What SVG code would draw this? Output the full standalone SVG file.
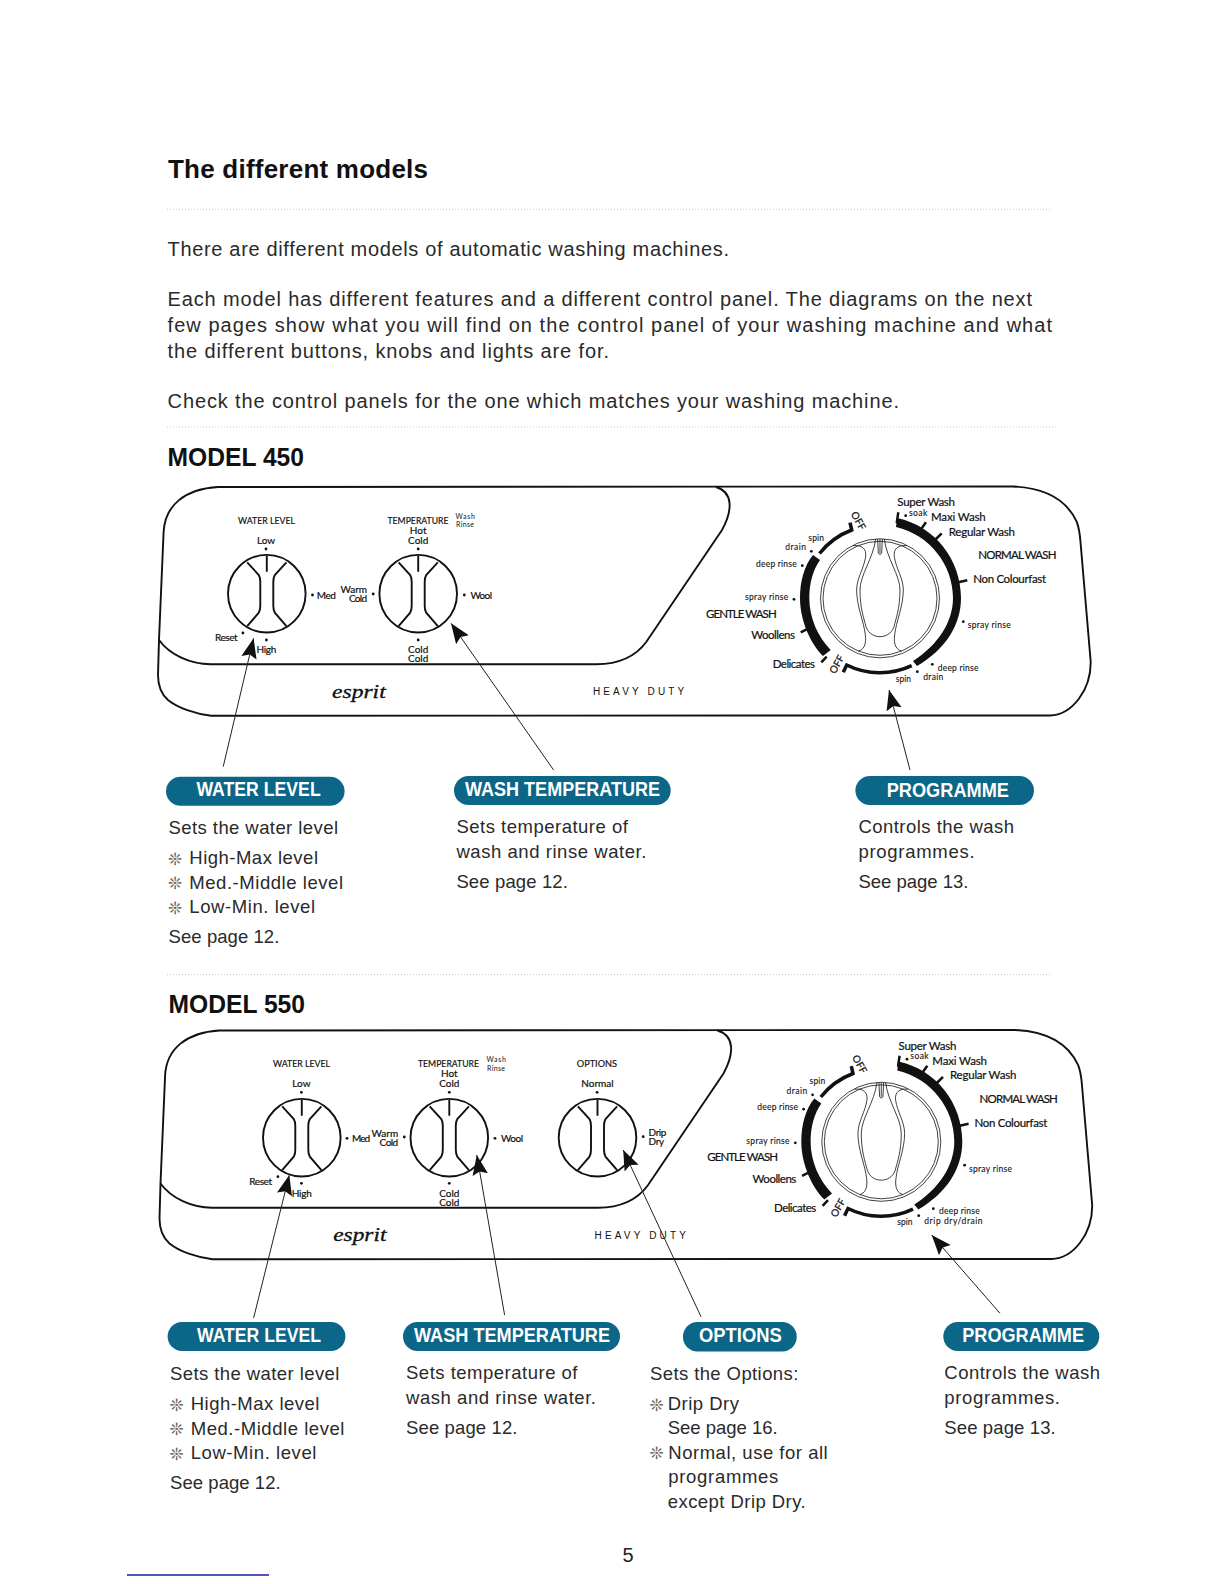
<svg xmlns="http://www.w3.org/2000/svg" xmlns:xlink="http://www.w3.org/1999/xlink" width="1224" height="1584" viewBox="0 0 1224 1584">
<style>
.h{font:bold 26px "Liberation Sans",Arial,sans-serif;fill:#111}
.m{font:bold 25px "Liberation Sans",Arial,sans-serif;fill:#111}
.b{font:20px "Liberation Sans",Arial,sans-serif;fill:#2a2a2a}
.c{font:18.5px "Liberation Sans",Arial,sans-serif;fill:#2a2a2a}
.s{font:17px "DejaVu Sans",sans-serif;fill:#666}
.pt{font:bold 20px "Liberation Sans",Arial,sans-serif;fill:#fff;text-anchor:start}
.pill{fill:#0b6688}
.dot{stroke:#ccc;stroke-width:1;stroke-dasharray:1 2;fill:none}
.p{font:10px Lato,"Liberation Sans",sans-serif;fill:#111;stroke:#111;stroke-width:.2}
.m1{text-anchor:middle}
.t{font:11.5px Lato,"Liberation Sans",sans-serif;fill:#111;stroke:#111;stroke-width:.2}
.sm{font:8.5px Lato,"Liberation Sans",sans-serif;fill:#111;stroke:#111;stroke-width:.1}
.off{font:10px Lato,"Liberation Sans",sans-serif;fill:#111;stroke:#111;stroke-width:.25;text-anchor:middle}
.xs{font:7px Lato,"Liberation Sans",sans-serif;fill:#111}
.hd{font:10px "Liberation Sans",sans-serif;letter-spacing:3.15px;fill:#111}
.es{font:italic 18px "Liberation Serif",serif;fill:#111;stroke:#111;stroke-width:.3}
.ln{stroke:#111;fill:none;stroke-width:1.9}
.th{stroke:#111;fill:none;stroke-width:.8}
.wire{stroke:#222;stroke-width:1;fill:none;marker-end:url(#ah)}
</style>
<defs>
<marker id="ah" markerUnits="userSpaceOnUse" markerWidth="20" markerHeight="16" refX="18" refY="7" orient="auto" viewBox="0 0 18 14"><path d="M0 0L18 7L0 14L3 7Z" fill="#111"/></marker>
<g id="knob" class="ln" fill="none">
<circle r="38.8" cx="0" cy="0"/>
<path d="M0-38V-22M-19.6-31.3L-8-18.7Q-6.5-16-6.5-12V12Q-6.5 16-8 19L-19.6 32.5M19.6-31.3L8-18.7Q6.5-16 6.5-12V12Q6.5 16 8 19L19.6 32.5"/>
</g>
<g id="panel"><path class="ln" d="M218 487L1013 486.5C1050 488 1068 503 1076.7 521.7C1079 528 1080 535 1080.5 542L1090.7 661.7C1091 690 1072 715 1050 715.5L211 715.7C195 714 178 708 168 700C160 693 158 685 158 675L159 640L163.6 532C165 505 185 489 218 487Z"/>
<path class="ln" d="M159 640C170 655 190 664 210.7 664.3L596.4 664.3C620 664 636 656 646.4 641.7L722 530C733 510 733 492 716 487"/></g>
<g id="dial">
<circle class="th" cx="880" cy="598.3" r="59.5"/><circle class="th" cx="880" cy="598.3" r="57"/>
<g transform="translate(680 475) scale(.3333)" fill="none" stroke="#111" stroke-width="2.4">
<path d="M587 192C580 250 540 300 540 345C540 400 552 430 558 455C566 478 585 485 600 485C615 485 634 478 642 455C648 430 660 400 660 345C660 300 620 250 613 192"/>
<path d="M593 192L595 235Q600 243 605 235L607 192M600 192V235"/>
<path d="M520 212C545 210 560 220 557 245C552 280 530 310 530 345C530 395 552 440 556 480C560 510 550 525 535 528"/>
<path d="M680 212C655 210 640 220 643 245C648 280 670 310 670 345C670 395 648 440 644 480C640 510 650 525 665 528"/>
</g>
<path fill="#111" d="M897 518C935 526 961 560 961 598C961 625 945 650 917 666L913 661C938 645 953 622 953 598C953 565 930 535 896 527Z"/>
<path fill="#111" d="M813 555C804 566 800 582 800 598C800 620 810 643 823 656L830.7 650C818 637 809.3 618 809.3 598C809.3 583 813 570 820 560Z"/>
<path class="ln" style="stroke-width:3.5" d="M819.5 553.5A75 75 0 0 1 851.7 530L850 522.7"/>
<path class="ln" style="stroke-width:3.5" d="M911.7 665.7A74.5 74.5 0 0 1 846.7 665L843.3 672.3"/>
<path class="ln" style="stroke-width:2.5" d="M896.7 523.3L898.3 512.3M921.7 528.3L926 522.3M935 540L941.7 533.3M958.3 582.3L967.3 580.3M806.7 629.3L800.7 632.3M826.7 656.7L821.3 662.3"/>
</g>
</defs>
<rect width="1224" height="1584" fill="#fff"/>

<g id="intro">
<text class="h" x="168" y="178" textLength="260" lengthAdjust="spacing">The different models</text>
<path class="dot" d="M167 209.3H1050M167 427H1056M167 974.6H1052"/>
<text class="b" x="167.6" y="255.7" textLength="561.4" lengthAdjust="spacing">There are different models of automatic washing machines.</text>
<text class="b" x="167.6" y="306" textLength="864.4" lengthAdjust="spacing">Each model has different features and a different control panel. The diagrams on the next</text>
<text class="b" x="167.6" y="331.5" textLength="884.4" lengthAdjust="spacing">few pages show what you will find on the control panel of your washing machine and what</text>
<text class="b" x="167.6" y="357.5" textLength="441.4" lengthAdjust="spacing">the different buttons, knobs and lights are for.</text>
<text class="b" x="167.6" y="408" textLength="731.4" lengthAdjust="spacing">Check the control panels for the one which matches your washing machine.</text>
<text class="m" x="167.6" y="465.5" textLength="136.4" lengthAdjust="spacingAndGlyphs">MODEL 450</text>
<text class="m" x="168.6" y="1013" textLength="136.4" lengthAdjust="spacingAndGlyphs">MODEL 550</text>
<text x="628" y="1562" text-anchor="middle" style="font:20px 'Liberation Sans',sans-serif;fill:#222">5</text>
<path d="M127 1575H269" stroke="#1a1a9c" stroke-width="1.4"/>
</g>

<g id="panel-450">
<use xlink:href="#panel" href="#panel"/>
<use xlink:href="#knob" href="#knob" x="266.8" y="593.7"/>
<use xlink:href="#knob" href="#knob" x="418.2" y="593.7"/>
<use xlink:href="#dial" href="#dial"/>
<g fill="#111"><circle cx="266" cy="549" r="1.4"/><circle cx="418.2" cy="549" r="1.4"/><circle cx="312.5" cy="595" r="1.4"/><circle cx="373.2" cy="594" r="1.4"/><circle cx="464.3" cy="595" r="1.4"/><circle cx="242.9" cy="633" r="1.4"/><circle cx="266.4" cy="640" r="1.4"/><circle cx="418.2" cy="640" r="1.4"/>
<circle cx="905.7" cy="515.7" r="1.4"/><circle cx="963.3" cy="621.7" r="1.4"/><circle cx="932.3" cy="664.3" r="1.4"/><circle cx="917.3" cy="671.7" r="1.4"/><circle cx="794" cy="599.3" r="1.4"/><circle cx="802.3" cy="565.7" r="1.4"/><circle cx="811.3" cy="551.3" r="1.4"/></g>
<text class="p" x="238" y="524" textLength="57" lengthAdjust="spacingAndGlyphs">WATER LEVEL</text>
<text class="p m1" x="266" y="544">Low</text>
<text class="p" x="387.5" y="524" textLength="61" lengthAdjust="spacingAndGlyphs">TEMPERATURE</text>
<text class="xs" x="455.4" y="519.3" textLength="19.6">Wash</text>
<text class="xs" x="456" y="527.3" textLength="18">Rinse</text>
<text class="p m1" x="418.2" y="534.3">Hot</text><text class="p m1" x="418.2" y="544">Cold</text>
<text class="p" x="316.8" y="599" textLength="19">Med</text>
<text class="p" x="340.4" y="593.3" textLength="26.6">Warm</text>
<text class="p" x="349" y="602" textLength="18">Cold</text>
<text class="p" x="470.4" y="598.7" textLength="21.6">Wool</text>
<text class="p" x="215" y="641" textLength="22.5">Reset</text>
<text class="p" x="256.4" y="653.3" textLength="20">High</text>
<text class="p m1" x="418.2" y="652.7">Cold</text><text class="p m1" x="418.2" y="661.7">Cold</text>
<text class="es" x="332" y="697.7" textLength="53.7" lengthAdjust="spacingAndGlyphs">esprit</text>
<text class="hd" x="592.9" y="695">HEAVY DUTY</text>
<text class="t" x="897.3" y="506" textLength="57.7">Super Wash</text>
<text class="sm" x="909" y="515.7" textLength="18.3">soak</text>
<text class="t" x="931" y="521" textLength="54.7">Maxi Wash</text>
<text class="t" x="948.7" y="535.7" textLength="66.3">Regular Wash</text>
<text class="t" x="978.3" y="559" textLength="78.3">NORMAL WASH</text>
<text class="t" x="973.3" y="583.3" textLength="72.7">Non Colourfast</text>
<text class="sm" x="967.7" y="628.3" textLength="43">spray rinse</text>
<text class="sm" x="937.7" y="670.7" textLength="40.7">deep rinse</text>
<text class="sm" x="923.3" y="680" textLength="20">drain</text>
<text class="sm" x="895.7" y="681.7" textLength="15.3">spin</text>
<text class="t" x="772.7" y="668.3" textLength="42.3">Delicates</text>
<text class="t" x="751.3" y="639.3" textLength="43.7">Woollens</text>
<text class="t" x="706" y="617.7" textLength="70.7">GENTLE WASH</text>
<text class="sm" x="745" y="600" textLength="43.3">spray rinse</text>
<text class="sm" x="756" y="566.7" textLength="40.7">deep rinse</text>
<text class="sm" x="785.3" y="550.3" textLength="20.7">drain</text>
<text class="sm" x="808.3" y="540.7" textLength="15.7">spin</text>
<text class="off" transform="translate(858.3 520.7) rotate(60)" y="3.5">OFF</text>
<text class="off" transform="translate(836.7 664.3) rotate(-60)" y="3.5">OFF</text>
</g>

<g id="panel-550">
<use xlink:href="#panel" href="#panel" transform="translate(1.5 543.5)"/>
<use xlink:href="#knob" href="#knob" x="301.8" y="1137.7"/>
<use xlink:href="#knob" href="#knob" x="449.3" y="1137.7"/>
<use xlink:href="#knob" href="#knob" x="597.5" y="1137.7"/>
<use xlink:href="#dial" href="#dial" transform="translate(1.3 543.5)"/>
<g fill="#111"><circle cx="301.4" cy="1092.3" r="1.4"/><circle cx="449.3" cy="1092.3" r="1.4"/><circle cx="597.1" cy="1092.3" r="1.4"/><circle cx="347" cy="1138.3" r="1.4"/><circle cx="404.3" cy="1137" r="1.4"/><circle cx="495" cy="1138.3" r="1.4"/><circle cx="449.3" cy="1183.3" r="1.4"/><circle cx="277.9" cy="1176.7" r="1.4"/><circle cx="301.4" cy="1183.3" r="1.4"/><circle cx="643.2" cy="1136.7" r="1.4"/>
<circle cx="907" cy="1059.2" r="1.4"/><circle cx="964.6" cy="1165.2" r="1.4"/><circle cx="933.3" cy="1208.7" r="1.4"/><circle cx="918.7" cy="1215.7" r="1.4"/><circle cx="795.3" cy="1142.8" r="1.4"/><circle cx="803.6" cy="1109.2" r="1.4"/><circle cx="812.6" cy="1094.8" r="1.4"/></g>
<text class="p" x="273" y="1067.3" textLength="57" lengthAdjust="spacingAndGlyphs">WATER LEVEL</text>
<text class="p m1" x="301.4" y="1086.7">Low</text>
<text class="p" x="418" y="1066.7" textLength="61" lengthAdjust="spacingAndGlyphs">TEMPERATURE</text>
<text class="xs" x="486.4" y="1062.3" textLength="19.6">Wash</text>
<text class="xs" x="487" y="1070.7" textLength="18">Rinse</text>
<text class="p m1" x="449.3" y="1077.3">Hot</text><text class="p m1" x="449.3" y="1086.7">Cold</text>
<text class="p" x="352" y="1142" textLength="18">Med</text>
<text class="p" x="371.4" y="1136.7" textLength="26.8">Warm</text>
<text class="p" x="379.6" y="1145.7" textLength="18.6">Cold</text>
<text class="p" x="501" y="1142.3" textLength="22">Wool</text>
<text class="p" x="249.3" y="1185" textLength="22.7">Reset</text>
<text class="p" x="291.8" y="1197" textLength="20">High</text>
<text class="p m1" x="449.3" y="1196.7">Cold</text><text class="p m1" x="449.3" y="1205.7">Cold</text>
<text class="p" x="576.8" y="1066.7" textLength="40.2" lengthAdjust="spacingAndGlyphs">OPTIONS</text>
<text class="p m1" x="597.5" y="1086.7">Normal</text>
<text class="p" x="648.6" y="1135.7" textLength="17.8">Drip</text>
<text class="p" x="648.6" y="1145.3" textLength="15.5">Dry</text>
<text class="es" x="333.2" y="1240.7" textLength="53.3" lengthAdjust="spacingAndGlyphs">esprit</text>
<text class="hd" x="594.6" y="1238.7">HEAVY DUTY</text>
<text class="t" x="898.6" y="1049.5" textLength="57.7">Super Wash</text>
<text class="sm" x="910.3" y="1059.2" textLength="18.3">soak</text>
<text class="t" x="932.3" y="1064.5" textLength="54.7">Maxi Wash</text>
<text class="t" x="950" y="1079.2" textLength="66.3">Regular Wash</text>
<text class="t" x="979.6" y="1102.5" textLength="78.3">NORMAL WASH</text>
<text class="t" x="974.6" y="1126.8" textLength="72.7">Non Colourfast</text>
<text class="sm" x="969" y="1171.8" textLength="43">spray rinse</text>
<text class="sm" x="939" y="1214.3" textLength="40.7">deep rinse</text>
<text class="sm" x="924.3" y="1224" textLength="58.3">drip dry/drain</text>
<text class="sm" x="897.3" y="1225" textLength="15.3">spin</text>
<text class="t" x="774" y="1211.8" textLength="42.3">Delicates</text>
<text class="t" x="752.6" y="1182.8" textLength="43.7">Woollens</text>
<text class="t" x="707.3" y="1161.2" textLength="70.7">GENTLE WASH</text>
<text class="sm" x="746.3" y="1143.5" textLength="43.3">spray rinse</text>
<text class="sm" x="757.3" y="1110.2" textLength="40.7">deep rinse</text>
<text class="sm" x="786.6" y="1093.8" textLength="20.7">drain</text>
<text class="sm" x="809.6" y="1084.2" textLength="15.7">spin</text>
<text class="off" transform="translate(859.6 1064.2) rotate(60)" y="3.5">OFF</text>
<text class="off" transform="translate(838 1207.8) rotate(-60)" y="3.5">OFF</text>
</g>

<g id="connectors">
<path class="wire" d="M223.2 766.7L253.6 638.3"/>
<path class="wire" d="M553.6 770L451 623.3"/>
<path class="wire" d="M910 770L889 690"/>
<path class="wire" d="M253.6 1318L289.3 1175"/>
<path class="wire" d="M504.6 1315L476.8 1155"/>
<path class="wire" d="M701 1316.7L623.2 1150"/>
<path class="wire" d="M1000 1313.3L931.7 1235"/>
</g>

<g id="water-level-450">
<rect class="pill" x="166" y="776.7" width="178.6" height="29" rx="14.5"/>
<text class="pt" x="196.4" y="796" textLength="124.3" lengthAdjust="spacingAndGlyphs">WATER LEVEL</text>
<text class="c" x="168.6" y="834" textLength="169.4">Sets the water level</text>
<text class="s" x="168" y="864.8">❊</text><text class="c" x="189.3" y="864.3" textLength="128.7">High-Max level</text>
<text class="s" x="168" y="889.2">❊</text><text class="c" x="189.3" y="888.7" textLength="153.7">Med.-Middle level</text>
<text class="s" x="168" y="913.5">❊</text><text class="c" x="189.3" y="913" textLength="125.7">Low-Min. level</text>
<text class="c" x="168.6" y="942.7" textLength="110.7">See page 12.</text>
</g>
<g id="wash-temperature-450">
<rect class="pill" x="454" y="776" width="216.7" height="29" rx="14.5"/>
<text class="pt" x="465" y="795.7" textLength="195" lengthAdjust="spacingAndGlyphs">WASH TEMPERATURE</text>
<text class="c" x="456.4" y="833.3" textLength="171.5">Sets temperature of</text>
<text class="c" x="456.4" y="858.3" textLength="190">wash and rinse water.</text>
<text class="c" x="456.4" y="888.3" textLength="111.5">See page 12.</text>
</g>
<g id="programme-450">
<rect class="pill" x="855.4" y="776" width="178.6" height="29" rx="14.5"/>
<text class="pt" x="886.7" y="796.5" textLength="122.3" lengthAdjust="spacingAndGlyphs">PROGRAMME</text>
<text class="c" x="858.4" y="833" textLength="155.6">Controls the wash</text>
<text class="c" x="858.4" y="858" textLength="116.2">programmes.</text>
<text class="c" x="858.4" y="888" textLength="110.1">See page 13.</text>
</g>
<g id="water-level-550">
<rect class="pill" x="167.6" y="1322" width="177.8" height="29" rx="14.5"/>
<text class="pt" x="197" y="1342" textLength="124" lengthAdjust="spacingAndGlyphs">WATER LEVEL</text>
<text class="c" x="170" y="1380" textLength="169.4">Sets the water level</text>
<text class="s" x="169.4" y="1410.8">❊</text><text class="c" x="190.7" y="1410.3" textLength="128.7">High-Max level</text>
<text class="s" x="169.4" y="1435.2">❊</text><text class="c" x="190.7" y="1434.7" textLength="153.7">Med.-Middle level</text>
<text class="s" x="169.4" y="1459.5">❊</text><text class="c" x="190.7" y="1459" textLength="125.7">Low-Min. level</text>
<text class="c" x="170" y="1488.7" textLength="110.7">See page 12.</text>
</g>
<g id="wash-temperature-550">
<rect class="pill" x="403" y="1322" width="217" height="29" rx="14.5"/>
<text class="pt" x="414" y="1342" textLength="196" lengthAdjust="spacingAndGlyphs">WASH TEMPERATURE</text>
<text class="c" x="406" y="1379.3" textLength="171.5">Sets temperature of</text>
<text class="c" x="406" y="1404" textLength="190">wash and rinse water.</text>
<text class="c" x="406" y="1434" textLength="111.5">See page 12.</text>
</g>
<g id="options-550">
<rect class="pill" x="683" y="1322" width="113.7" height="29.5" rx="14.5"/>
<text class="pt" x="699" y="1342.3" textLength="82.7" lengthAdjust="spacingAndGlyphs">OPTIONS</text>
<text class="c" x="650" y="1380" textLength="148.3">Sets the Options:</text>
<text class="s" x="649.5" y="1410.5">❊</text><text class="c" x="667.7" y="1410" textLength="71.3">Drip Dry</text>
<text class="c" x="667.7" y="1434.3" textLength="110">See page 16.</text>
<text class="s" x="649.5" y="1459.2">❊</text><text class="c" x="668.3" y="1458.7" textLength="159.4">Normal, use for all</text>
<text class="c" x="668.3" y="1483" textLength="110">programmes</text>
<text class="c" x="667.7" y="1508" textLength="138">except Drip Dry.</text>
</g>
<g id="programme-550">
<rect class="pill" x="943.3" y="1322" width="156" height="29" rx="14.5"/>
<text class="pt" x="962.3" y="1342" textLength="121.7" lengthAdjust="spacingAndGlyphs">PROGRAMME</text>
<text class="c" x="944.3" y="1379.3" textLength="155.7">Controls the wash</text>
<text class="c" x="944.3" y="1404" textLength="115.7">programmes.</text>
<text class="c" x="944.3" y="1434" textLength="111.4">See page 13.</text>
</g>
</svg>
